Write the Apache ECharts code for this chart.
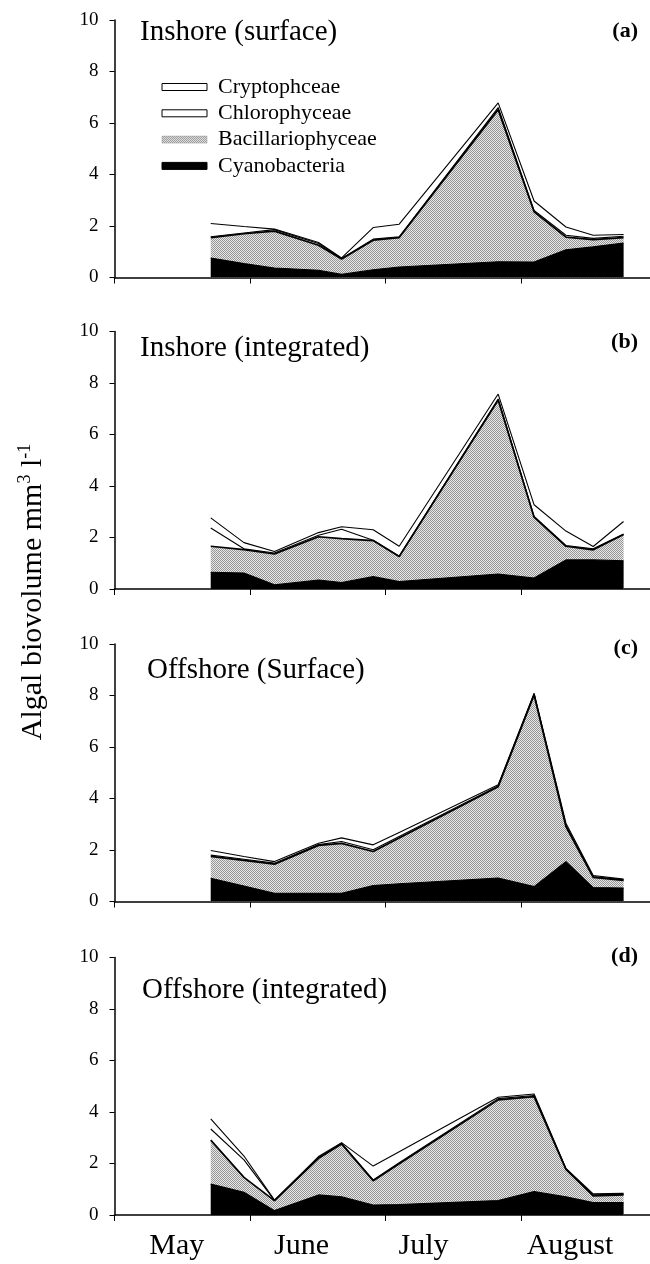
<!DOCTYPE html>
<html><head><meta charset="utf-8">
<script src="https://cdn.jsdelivr.net/npm/echarts@6/dist/echarts.min.js"></script>
<style>html,body{margin:0;padding:0;background:#fff}#c{width:650px;height:1264px}</style>
</head><body><div id="c"></div>
<script>
// sampling dates, in months since 1 May
const sampleDates = [0.71, 0.955, 1.18, 1.505, 1.675, 1.908, 2.1, 2.83, 3.095, 3.33, 3.531, 3.755];
const monthLabels = ['May', 'June', 'July', 'August'];
const monthLabelPos = [0.46, 1.38, 2.28, 3.36];
const monthTickPos = [0, 1, 2, 3];
const seriesNames = ['Cyanobacteria', 'Bacillariophyceae', 'Chlorophyceae', 'Cryptophceae'];
const legendOrder = ['Cryptophceae', 'Chlorophyceae', 'Bacillariophyceae', 'Cyanobacteria'];
const panelTitles = ['Inshore (surface)', 'Inshore (integrated)', 'Offshore (Surface)', 'Offshore (integrated)'];
const panelLetters = ['(a)', '(b)', '(c)', '(d)'];
const yAxisTitle = 'Algal biovolume mm';

// (a) Inshore surface
const cyanoA  = [0.76, 0.54, 0.37, 0.28, 0.12, 0.30, 0.41, 0.61, 0.60, 1.08, 1.19, 1.34];
const bacilA  = [0.79, 1.16, 1.43, 0.97, 0.60, 1.15, 1.14, 5.91, 1.95, 0.49, 0.28, 0.21];
const chloroA = [0.03, 0.03, 0.06, 0.07, 0.02, 0.04, 0.03, 0.08, 0.05, 0.07, 0.05, 0.05];
const cryptoA = [0.52, 0.25, 0.02, 0.04, 0.02, 0.45, 0.49, 0.18, 0.37, 0.32, 0.12, 0.07];
// (b) Inshore integrated
const cyanoB  = [0.65, 0.62, 0.16, 0.35, 0.25, 0.48, 0.29, 0.58, 0.43, 1.13, 1.13, 1.10];
const bacilB  = [1.01, 0.91, 1.20, 1.68, 1.71, 1.40, 0.97, 6.76, 2.36, 0.53, 0.39, 1.02];
const chloroB = [0.71, 0.03, 0.04, 0.06, 0.36, 0.01, 0.01, 0.04, 0.03, 0.03, 0.04, 0.02];
const cryptoB = [0.39, 0.24, 0.06, 0.10, 0.10, 0.41, 0.39, 0.19, 0.45, 0.56, 0.09, 0.48];
// (c) Offshore surface
const cyanoC  = [0.90, 0.60, 0.32, 0.32, 0.32, 0.62, 0.69, 0.91, 0.58, 1.55, 0.54, 0.52];
const bacilC  = [0.85, 1.00, 1.13, 1.86, 1.94, 1.32, 1.78, 3.55, 7.44, 1.36, 0.40, 0.30];
const chloroC = [0.05, 0.04, 0.04, 0.03, 0.07, 0.07, 0.05, 0.03, 0.02, 0.04, 0.03, 0.02];
const cryptoC = [0.18, 0.11, 0.06, 0.05, 0.14, 0.19, 0.16, 0.04, 0.05, 0.09, 0.04, 0.03];
// (d) Offshore integrated
const cyanoD  = [1.20, 0.88, 0.17, 0.78, 0.71, 0.39, 0.41, 0.56, 0.91, 0.71, 0.48, 0.48];
const bacilD  = [1.71, 0.58, 0.39, 1.42, 2.05, 0.94, 1.58, 3.91, 3.69, 1.06, 0.26, 0.30];
const chloroD = [0.43, 0.68, 0.01, 0.03, 0.03, 0.03, 0.04, 0.05, 0.04, 0.02, 0.04, 0.03];
const cryptoD = [0.39, 0.15, 0.01, 0.04, 0.02, 0.54, 0.43, 0.05, 0.06, 0.02, 0.04, 0.03];

const panels = [
  [cyanoA, bacilA, chloroA, cryptoA],
  [cyanoB, bacilB, chloroB, cryptoB],
  [cyanoC, bacilC, chloroC, cryptoC],
  [cyanoD, bacilD, chloroD, cryptoD]
];

// stipple pattern for diatoms
const pc = document.createElement('canvas');
pc.width = 2; pc.height = 2;
const pctx = pc.getContext('2d');
pctx.fillStyle = '#e8e8e8'; pctx.fillRect(0, 0, 2, 2);
pctx.fillStyle = '#959595'; pctx.fillRect(0, 0, 1, 1); pctx.fillRect(1, 1, 1, 1);
const stipple = { image: pc, repeat: 'repeat' };

const FONT = '"Liberation Serif", "Times New Roman", serif';
const gridTops = [20, 331.5, 644, 957.5];
const gridH = 257.5;
const gridLeft = 114.5;
const xMax = 3.95;

const grids = [], xAxes = [], yAxes = [], series = [], graphics = [];
const titleX = [140, 140, 147, 142];
const titleY = [32, 348.5, 670.5, 990.5];
const letterY = [31.7, 342.5, 648, 956.5];

// cumulative stacking (cyano at bottom, then diatoms, chlorophytes, cryptophytes)
function cumulative(p) {
  const out = [];
  let run = sampleDates.map(() => 0);
  p.forEach(vals => { run = run.map((r, j) => +(r + vals[j]).toFixed(3)); out.push(run.slice()); });
  return out;
}
// drawing order: diatom area (to 0), cyano area on top, then lines above
const drawOrder = [1, 0, 2, 3];

panels.forEach((p, i) => {
  grids.push({ left: gridLeft, right: 0, top: gridTops[i], height: gridH });
  const isLast = i === panels.length - 1;
  xAxes.push({
    type: 'value', gridIndex: i, min: 0, max: xMax,
    axisLine: { show: true, lineStyle: { color: '#000', width: 1.5 } },
    axisTick: { show: true, customValues: monthTickPos, length: 6, lineStyle: { color: '#000', width: 1 } },
    axisLabel: isLast ? {
      show: true, customValues: monthLabelPos, margin: 16,
      color: '#000', fontFamily: FONT, fontSize: 30,
      formatter: v => { const k = monthLabelPos.findIndex(m => Math.abs(m - v) < 1e-6); return k >= 0 ? monthLabels[k] : ''; }
    } : { show: false },
    splitLine: { show: false }
  });
  yAxes.push({
    type: 'value', gridIndex: i, min: 0, max: 10, interval: 2,
    axisLine: { show: true, lineStyle: { color: '#000', width: 1.5 } },
    axisTick: { show: true, length: 5, lineStyle: { color: '#000', width: 1 } },
    axisLabel: { color: '#000', fontFamily: FONT, fontSize: 19, margin: 16 },
    splitLine: { show: false }
  });
  const cum = cumulative(p);
  drawOrder.forEach((s, order) => {
    const ser = {
      name: seriesNames[s], type: 'line', xAxisIndex: i, yAxisIndex: i,
      symbol: 'none', silent: true, z: 2 + order,
      data: sampleDates.map((d, j) => [d, cum[s][j]]),
      lineStyle: { color: '#000', width: s === 1 ? 1.7 : 1.1 },
      itemStyle: { color: '#000' }
    };
    if (s === 0) ser.areaStyle = { color: '#000', opacity: 1 };
    if (s === 1) ser.areaStyle = { color: stipple, opacity: 1 };
    series.push(ser);
  });
  graphics.push({
    type: 'text', x: titleX[i], y: titleY[i],
    style: { text: panelTitles[i], font: '29px ' + FONT, fill: '#000', verticalAlign: 'middle' }
  });
  graphics.push({
    type: 'text', x: 638, y: letterY[i],
    style: { text: panelLetters[i], font: 'bold 22px ' + FONT, fill: '#000', align: 'right', verticalAlign: 'middle' }
  });
});

graphics.push({
  type: 'text', x: 33, y: 592, rotation: Math.PI / 2,
  style: {
    text: yAxisTitle + '{sup|3} l{sup|-1}',
    font: '30px ' + FONT, fill: '#000', align: 'center', verticalAlign: 'middle',
    rich: { sup: { fontSize: 18, fontFamily: FONT, verticalAlign: 'top', lineHeight: 33, fill: '#000' } }
  }
});

const legendStyles = {
  'Cryptophceae': { color: '#fff', borderColor: '#000', borderWidth: 1 },
  'Chlorophyceae': { color: '#fff', borderColor: '#000', borderWidth: 1 },
  'Bacillariophyceae': { color: stipple, borderColor: '#999', borderWidth: 0.5 },
  'Cyanobacteria': { color: '#000', borderColor: '#000', borderWidth: 1 }
};

const chart = echarts.init(document.getElementById('c'), null, { renderer: 'canvas' });
chart.setOption({
  animation: false,
  backgroundColor: '#fff',
  grid: grids, xAxis: xAxes, yAxis: yAxes, series: series,
  legend: {
    orient: 'vertical', left: 161.5, top: 76, padding: 0, itemWidth: 45, itemHeight: 7, itemGap: 4.3,
    selectedMode: false,
    textStyle: { color: '#000', fontFamily: FONT, fontSize: 22, lineHeight: 22, padding: [0, 0, 0, 6] },
    data: legendOrder.map(n => ({ name: n, icon: 'rect', itemStyle: legendStyles[n] }))
  },
  graphic: graphics
});
</script></body></html>
